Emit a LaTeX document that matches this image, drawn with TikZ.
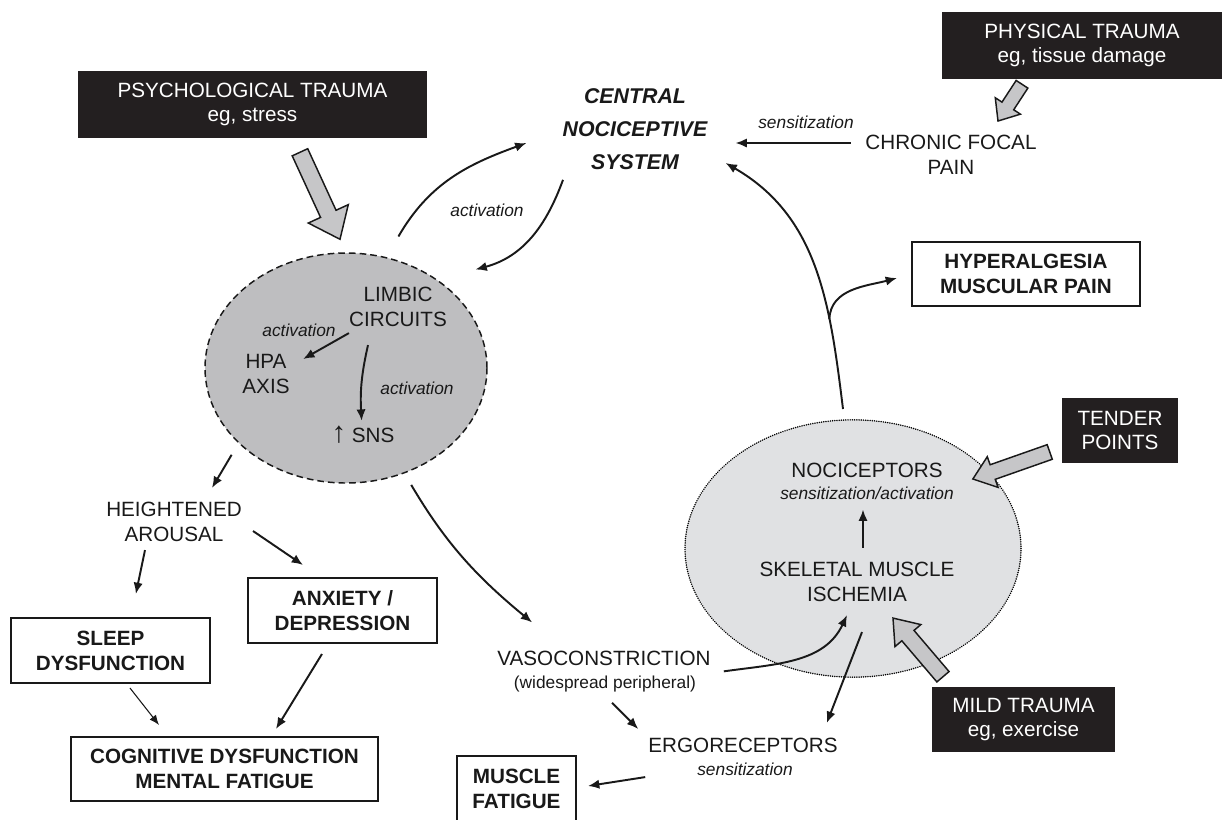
\documentclass[tikz,border=0pt]{standalone}
\usepackage{fontspec}
\setmainfont{Liberation Sans}
\usetikzlibrary{arrows.meta,calc,shapes.geometric}
\definecolor{boxblack}{HTML}{231F20}
\definecolor{limbicgray}{HTML}{BEBEC0}
\definecolor{nocigray}{HTML}{E0E1E3}
\definecolor{arrowgray}{HTML}{C6C6C8}
\newcommand{\myblockarrow}[6]{%
  \coordinate (#1-b) at ($(#3)!#6!(#2)$);
  \draw[blockst] (#3) -- ($(#1-b)!#4!90:(#3)$) -- ($(#1-b)!#5!90:(#3)$) -- ($(#2)!#5!90:(#3)$) -- ($(#2)!#5!-90:(#3)$) -- ($(#1-b)!#5!-90:(#3)$) -- ($(#1-b)!#4!-90:(#3)$) -- cycle;}
\begin{document}
\begin{tikzpicture}[x=0.75pt,y=-0.75pt,
  base/.style={font=\fontsize{15.5}{18.75}\selectfont, align=center, inner sep=0pt, text=black!90},
  lbl/.style={font=\fontsize{13}{15}\selectfont\itshape, inner sep=0pt, text=black!90},
  blackbox/.style={fill=boxblack, text=white, font=\fontsize{15.5}{17.5}\selectfont, align=center, inner sep=0pt},
  outbox/.style={draw=black!90, line width=1.5pt, fill=white, font=\fontsize{15.5}{18.75}\selectfont\bfseries, align=center, inner sep=0pt, text=black!90},
  arr/.style={draw=black!90, line width=1.45pt, -{Latex[length=8.5pt,width=7pt]}},
  thinarr/.style={draw=black!90, line width=0.8pt, -{Latex[length=7.5pt,width=6pt]}},
  blockst/.style={draw=black!90, line width=1.1pt, fill=arrowgray, line join=miter},
]
\useasboundingbox (0,0) rectangle (1222,819);

% background ellipses
\node[ellipse, draw=black!90, line width=1.1pt, dash pattern=on 5pt off 3pt, fill=limbicgray, minimum width=211.5pt, minimum height=172.5pt, inner sep=0pt] (limbicbg) at (346,368) {};
\node[ellipse, draw=black, line width=1.25pt, dash pattern=on 0.01pt off 1.65pt, line cap=round, fill=nocigray, minimum width=252pt, minimum height=193pt, inner sep=0pt] (nocibg) at (853,548.5) {};

% black boxes
\node[blackbox, minimum width=261.75pt, minimum height=50.25pt] (psy) at (252.5,104.5) {PSYCHOLOGICAL TRAUMA\\eg, stress};
\node[blackbox, minimum width=210pt, minimum height=50.25pt] (phys) at (1082,45.5) {PHYSICAL TRAUMA\\eg, tissue damage};
\node[blackbox, minimum width=87pt, minimum height=48.75pt] (tender) at (1120,430.5) {TENDER\\POINTS};
\node[blackbox, minimum width=137.25pt, minimum height=48.75pt] (mild) at (1023.5,719.5) {MILD TRAUMA\\eg, exercise};

% outlined boxes
\node[outbox, minimum width=171pt, minimum height=48pt] (hyper) at (1026,274) {HYPERALGESIA\\MUSCULAR PAIN};
\node[outbox, minimum width=141.75pt, minimum height=48.75pt] (anx) at (342.5,610.5) {ANXIETY /\\DEPRESSION};
\node[outbox, minimum width=149.25pt, minimum height=48.75pt] (sleep) at (110.5,650.5) {SLEEP\\DYSFUNCTION};
\node[outbox, minimum width=230.25pt, minimum height=48pt] (cog) at (224.5,769) {COGNITIVE DYSFUNCTION\\MENTAL FATIGUE};
\node[outbox, minimum width=89.25pt, minimum height=49.5pt] (mf) at (516.5,788.5) {MUSCLE\\FATIGUE};

% text nodes
\node[base, font=\fontsize{16}{24.75}\selectfont\bfseries\itshape] (central) at (635,129) {CENTRAL\\NOCICEPTIVE\\SYSTEM};
\node[base] (chronic) at (951,155) {CHRONIC FOCAL\\PAIN};
\node[lbl] (sens) at (806,122) {sensitization};
\node[lbl] (act1) at (487,210) {activation};
\node[base] (limbic) at (398,307) {LIMBIC\\CIRCUITS};
\node[lbl] (act2) at (299,330) {activation};
\node[base] (hpa) at (266,374) {HPA\\AXIS};
\node[lbl] (act3) at (417,388) {activation};
\node[base] (sns) at (363,435) {{\fontsize{22}{22}\selectfont ↑} SNS};
\node[base] (arousal) at (174,522) {HEIGHTENED\\AROUSAL};
\node[base] (noci) at (867,470) {NOCICEPTORS};
\node[lbl] (nocisub) at (867,493) {sensitization/activation};
\node[base] (skel) at (857,582) {SKELETAL MUSCLE\\ISCHEMIA};
\node[base] (vaso) at (604,658) {VASOCONSTRICTION};
\node[base, font=\fontsize{13}{15}\selectfont] (vasosub) at (605,684.5) {(widespread peripheral)};
\node[base] (ergo) at (743,745.5) {ERGORECEPTORS};
\node[lbl] (ergosub) at (745,769) {sensitization};

% connector end points
\coordinate (c1s) at ([yshift=18pt]limbicbg.64);
\coordinate (c1e) at ([xshift=-27pt,yshift=-10.5pt]central.west);
\coordinate (c2s) at ([xshift=-54pt,yshift=-7.5pt]central.south);
\coordinate (c2e) at ([xshift=19pt,yshift=15pt]limbicbg.37);
\coordinate (c3s) at ([xshift=-11pt,yshift=9pt]chronic.west);
\coordinate (c3e) at ($(central.east |- c3s)+(21pt,0)$);
\coordinate (c4s) at ([xshift=-7.5pt,yshift=7.5pt]nocibg.north);
\coordinate (c4e) at ([xshift=13.5pt,yshift=-25.5pt]central.east);
\coordinate (hypT) at ([xshift=-10.5pt,yshift=-3pt]hyper.west);
\coordinate (c5s) at ([xshift=4.5pt,yshift=10.5pt]skel.north);
\coordinate (c5e) at ($(c5s |- nocisub.south)+(0,-7.5pt)$);
\coordinate (c6s) at ([xshift=9.75pt,yshift=-10pt]vaso.east);
\coordinate (c6e) at ([xshift=-7.5pt,yshift=-9.75pt]skel.south);
\coordinate (c7s) at ([xshift=3.75pt,yshift=-22.5pt]skel.south);
\coordinate (c7e) at ([xshift=-8.25pt,yshift=11.25pt]ergo.north east);
\coordinate (c8s) at ([xshift=5.25pt,yshift=-7.5pt]vasosub.south);
\coordinate (c8e) at ([xshift=-7.5pt,yshift=6.75pt]ergo.north west);
\coordinate (c9s) at ([xshift=-2.25pt,yshift=-18pt]ergo.south west);
\coordinate (c9e) at ([xshift=8.25pt,yshift=1.9pt]mf.east);
\coordinate (c10e) at ([xshift=28.5pt,yshift=10.5pt]arousal.north);
\coordinate (c11s) at ([xshift=-21.75pt,yshift=-6pt]arousal.south);
\coordinate (c11e) at ([xshift=19pt,yshift=17.25pt]sleep.north);
\coordinate (c12s) at ([xshift=8.25pt,yshift=-6.75pt]arousal.east);
\coordinate (c12e) at ([xshift=-29.6pt,yshift=9pt]anx.north);
\coordinate (c13s) at ([xshift=14.6pt,yshift=-3pt]sleep.south);
\coordinate (c13e) at ([xshift=-49.1pt,yshift=8.25pt]cog.north);
\coordinate (c14s) at ([xshift=-15.4pt,yshift=-7.5pt]anx.south);
\coordinate (c14e) at ([xshift=38.6pt,yshift=5.25pt]cog.north);
\coordinate (c15e) at ([xshift=26.25pt,yshift=21pt]vaso.north west);
\coordinate (c16s) at ([yshift=-4.5pt]limbic.south west);
\coordinate (c16e) at ([xshift=10pt,yshift=-3.75pt]hpa.north east);
\coordinate (c17s) at ([xshift=-22.5pt,yshift=-13.5pt]limbic.south);
\coordinate (c17e) at ([xshift=-1pt,yshift=4pt]sns.north);

% connectors
\draw[arr] (c1s) to[out=60,in=200] (c1e);
\draw[arr] (c2s) to[out=250,in=15] (c2e);
\draw[arr] (c3s) -- (c3e);
\draw[arr] (c4s) to[out=97,in=-30] coordinate[pos=0.3] (fork) (c4e);
\draw[arr] (fork) to[out=88,in=195] (hypT);
\draw[arr] (c5s) -- (c5e);
\draw[arr] (c6s) to[out=8,in=245] (c6e);
\draw[arr] (c7s) -- (c7e);
\draw[arr] (c8s) -- (c8e);
\draw[arr] (c9s) -- (c9e);
\draw[arr, shorten <=10pt] (limbicbg.215) -- (c10e);
\draw[arr] (c11s) -- (c11e);
\draw[arr] (c12s) -- (c12e);
\draw[thinarr] (c13s) -- (c13e);
\draw[arr] (c14s) -- (c14e);
\draw[arr, shorten <=10pt] (limbicbg.299) to[bend right=10] (c15e);
\draw[arr] (c16s) -- (c16e);
\draw[arr] (c17s) to[bend right=8] (c17e);

% block arrows
\coordinate (b1t) at ([xshift=35.6pt,yshift=-10.5pt]psy.south);
\coordinate (b1h) at ([xshift=-4.5pt,yshift=9.75pt]limbicbg.north);
\myblockarrow{b1}{b1t}{b1h}{16.5pt}{6.4pt}{21pt}
\coordinate (b2t) at ([xshift=-45pt,yshift=-3.75pt]phys.south);
\coordinate (b2h) at ([xshift=35.25pt,yshift=10.5pt]chronic.north);
\myblockarrow{b2}{b2t}{b2h}{11.25pt}{5.25pt}{13.5pt}
\coordinate (b3t) at ([xshift=-9pt,yshift=-16.1pt]tender.west);
\coordinate (b3h) at ([xshift=22.5pt,yshift=-6.75pt]noci.east);
\myblockarrow{b3}{b3t}{b3h}{12.2pt}{5.8pt}{15.75pt}
\coordinate (b4t) at ([xshift=-60.4pt,yshift=7.5pt]mild.north);
\coordinate (b4h) at ([xshift=27pt,yshift=-12pt]skel.south);
\myblockarrow{b4}{b4t}{b4h}{12.75pt}{6pt}{17.25pt}
\end{tikzpicture}
\end{document}
